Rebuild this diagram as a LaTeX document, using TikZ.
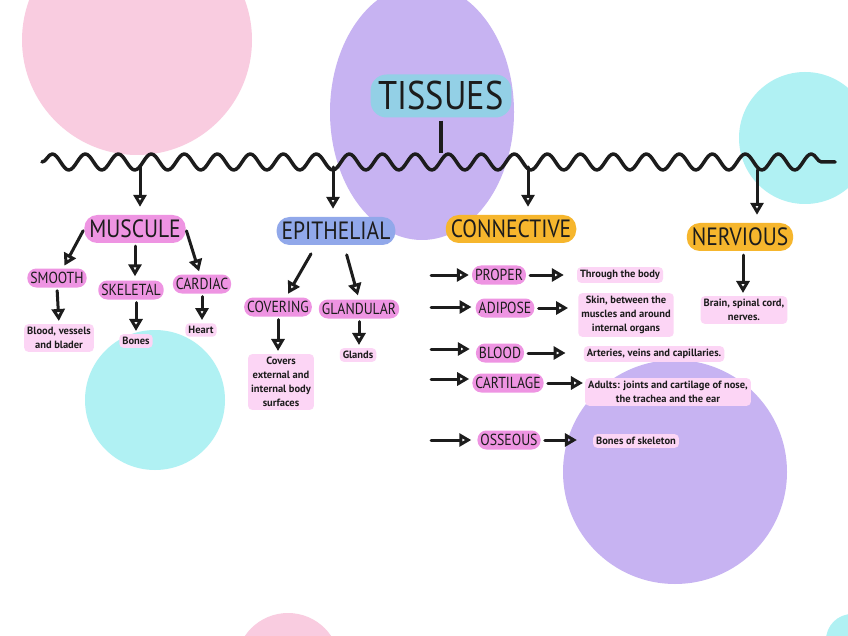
\documentclass[tikz,border=0pt]{standalone}
\usepackage{fontspec}
\setmainfont{PT Sans}
\newfontfamily\narrowfont[FakeStretch=0.86]{PT Sans}
\usetikzlibrary{arrows.meta, decorations.pathmorphing}

\definecolor{blobpink}{HTML}{F9CCE0}
\definecolor{blobpurple}{HTML}{C7B3F2}
\definecolor{blobcyan}{HTML}{B0F1F3}
\definecolor{titleblue}{HTML}{93D0E6}
\definecolor{headpink}{HTML}{EE94E2}
\definecolor{headblue}{HTML}{91A8EA}
\definecolor{headorange}{HTML}{F6B62D}
\definecolor{notepink}{HTML}{FCD5F5}
\definecolor{ink}{HTML}{1C1C1C}

\tikzset{
  titlebox/.style={fill=titleblue, rounded corners=16pt, text=ink, minimum height=43pt,
    inner xsep=8pt, font=\narrowfont\fontsize{40}{42}\selectfont},
  headbox/.style={rounded corners=13pt, text=ink, minimum height=28pt, inner xsep=5pt,
    font=\narrowfont\fontsize{25}{27}\selectfont},
  subbox/.style={fill=headpink, rounded corners=9pt, text=ink, minimum height=19pt,
    inner xsep=3pt, font=\narrowfont\fontsize{16}{18}\selectfont},
  notebox/.style={fill=notepink, rounded corners=4pt, text=ink, align=center, inner sep=3pt,
    font=\bfseries\fontsize{10.5}{14}\selectfont},
  arr/.style={draw=ink, line width=3pt, line cap=round,
    -{Triangle[open, length=12pt, width=13pt]}},
  stemline/.style={draw=ink, line width=3.5pt},
  wave/.style={draw=ink, line width=3.5pt, line cap=round, line join=round,
    decoration={snake, amplitude=8pt, segment length=33pt, pre length=0pt, post length=0pt}, decorate}
}

\begin{document}
\begin{tikzpicture}[x=1pt, y=-1pt]

    \useasboundingbox[fill=white] (0,0) rectangle (848,636);

    % Watercolour spots
    \fill[blobpink] (137,40) circle (115pt);
    \fill[blobpurple] (422,112) ellipse (92pt and 128pt);
    \fill[blobcyan] (805,138) circle (66pt);
    \fill[blobcyan] (155,400) circle (70pt);
    \fill[blobpurple] (675,472) circle (112pt);
    \fill[blobpink] (288,665) circle (52pt);
    \fill[blobcyan] (852,640) circle (26pt);

    % Title and wavy line
    \node[titlebox] (tissues) at (441,96) {TISSUES};
    \draw[wave] (42,162) -- (835,162);
    \coordinate (stem) at (441,153);
    \draw[stemline] ([yshift=-3pt]tissues.south) -- (stem);

    % Main groups
    \node[headbox, fill=headpink] (muscule) at (135,229) {MUSCULE};
    \node[headbox, fill=headblue] (epithelial) at (336,231) {EPITHELIAL};
    \node[headbox, fill=headorange] (connective) at (511,229) {CONNECTIVE};
    \node[headbox, fill=headorange] (nervious) at (740,237) {NERVIOUS};

    \coordinate (w1) at (140,167);
    \coordinate (w2) at (333,167);
    \coordinate (w3) at (528,167);
    \coordinate (w4) at (757,170);
    \draw[arr, shorten >=8pt] (w1) -- (w1 |- muscule.north);
    \draw[arr, shorten >=8pt] (w2) -- (w2 |- epithelial.north);
    \draw[arr, shorten >=8pt] (w3) -- (w3 |- connective.north);
    \draw[arr, shorten >=8pt] (w4) -- (w4 |- nervious.north);

    % Muscle
    \node[subbox] (smooth) at (57,278) {SMOOTH};
    \node[subbox] (skeletal) at (131,290) {SKELETAL};
    \node[subbox] (cardiac) at (202,284) {CARDIAC};
    \node[notebox] (smoothnote) at (59,338) {Blood, vessels\\and blader};
    \node[notebox] (skeletalnote) at (136,341) {Bones};
    \node[notebox] (cardiacnote) at (201,330) {Heart};

    \draw[arr, shorten <=2pt, shorten >=3pt] (muscule.west) -- ([xshift=6pt]smooth.north);
    \draw[arr, shorten <=3pt, shorten >=4pt] (muscule.south) -- (muscule.south |- skeletal.north);
    \draw[arr, shorten <=2pt, shorten >=3pt] (muscule.east) -- ([xshift=-2pt]cardiac.north);
    \draw[arr, shorten <=3pt, shorten >=3pt] (smooth.south) -- (smoothnote.north);
    \draw[arr, shorten <=3pt, shorten >=3pt] (skeletal.south -| skeletalnote.north) -- (skeletalnote.north);
    \draw[arr, shorten <=3pt, shorten >=3pt] (cardiac.south) -- (cardiac.south |- cardiacnote.north);

    % Epithelial
    \node[subbox] (covering) at (278,307) {COVERING};
    \node[subbox] (glandular) at (359,309) {GLANDULAR};
    \node[notebox] (coveringnote) at (281,382) {Covers\\external and\\internal body\\surfaces};
    \node[notebox] (glandularnote) at (358,355) {Glands};

    \draw[arr, shorten <=10pt, shorten >=4pt] ([xshift=-20pt]epithelial.south) -- ([xshift=8pt]covering.north);
    \draw[arr, shorten <=10pt, shorten >=4pt] ([xshift=8pt]epithelial.south) -- (glandular.north);
    \draw[arr, shorten <=3pt, shorten >=3pt] (covering.south) -- (covering.south |- coveringnote.north);
    \draw[arr, shorten <=3pt, shorten >=3pt] (glandular.south) -- (glandular.south |- glandularnote.north);

    % Connective
    \node[subbox] (proper) at (499,275) {PROPER};
    \node[subbox] (adipose) at (505,308) {ADIPOSE};
    \node[subbox] (blood) at (500,353) {BLOOD};
    \node[subbox] (cartilage) at (508,383) {CARTILAGE};
    \node[subbox] (osseous) at (509,440) {OSSEOUS};

    \node[notebox] (propernote) at (620,275) {Through the body};
    \node[notebox] (adiposenote) at (626,315) {Skin, between the\\muscles and around\\internal organs};
    \node[notebox] (bloodnote) at (654,354) {Arteries, veins and capillaries.};
    \node[notebox] (cartilagenote) at (668,392) {Adults: joints and cartilage of nose,\\the trachea and the ear};
    \node[notebox] (osseousnote) at (636,441) {Bones of skeleton};

    \coordinate (c1) at (431,275);
    \coordinate (c2) at (431,307);
    \coordinate (c3) at (431,349);
    \coordinate (c4) at (431,379);
    \coordinate (c5) at (431,440);
    \draw[arr, shorten >=3pt] (c1) -- (c1 -| proper.west);
    \draw[arr, shorten >=4pt] (c2) -- (c2 -| adipose.west);
    \draw[arr, shorten >=6pt] (c3) -- (c3 -| blood.west);
    \draw[arr, shorten >=3pt] (c4) -- (c4 -| cartilage.west);
    \draw[arr, shorten >=6pt] (c5) -- (c5 -| osseous.west);

    \draw[arr, shorten <=4pt, shorten >=13pt] (proper.east) -- (proper.east -| propernote.west);
    \draw[arr, shorten <=4pt, shorten >=10pt] (adipose.east) -- (adipose.east -| adiposenote.west);
    \draw[arr, shorten <=4pt, shorten >=18pt] (blood.east) -- (blood.east -| bloodnote.west);
    \draw[arr, shorten <=4pt, shorten >=2pt] (cartilage.east) -- (cartilage.east -| cartilagenote.west);
    \draw[arr, shorten <=4pt, shorten >=16pt] (osseous.east) -- (osseous.east -| osseousnote.west);

    % Nervous
    \node[notebox] (nerviousnote) at (744,310) {Brain, spinal cord,\\nerves.};
    \draw[arr, shorten <=4pt, shorten >=3pt] ([xshift=3pt]nervious.south) -- ([xshift=3pt]nervious.south |- nerviousnote.north);

\end{tikzpicture}
\end{document}
